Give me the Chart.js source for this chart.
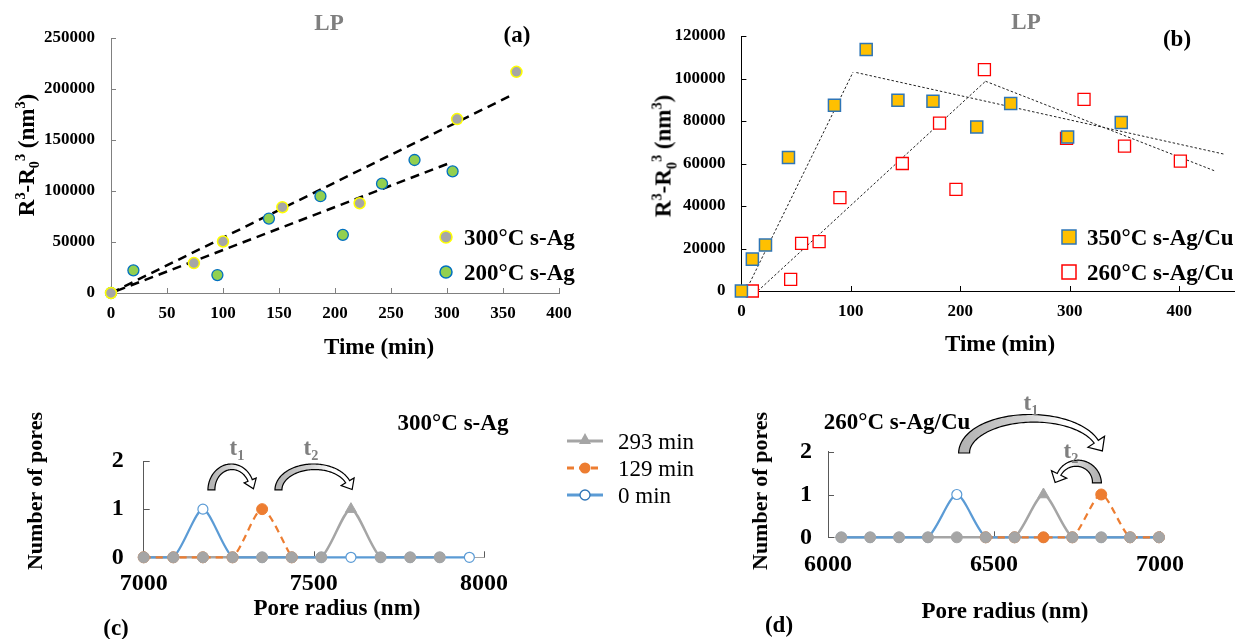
<!DOCTYPE html>
<html><head><meta charset="utf-8">
<script src="https://cdn.jsdelivr.net/npm/chart.js@4"></script>
<style>
body{margin:0;width:1244px;height:639px;position:relative;background:#fff;overflow:hidden;font-family:'Liberation Serif','Times New Roman',serif;}
canvas{position:absolute;}
.t{position:absolute;white-space:nowrap;font-weight:bold;transform:translate(-50%,-50%);line-height:1;color:#000;font-size:23px}
.v{transform:translate(-50%,-50%) rotate(-90deg);}
.l{position:absolute;white-space:nowrap;font-weight:bold;transform:translateY(-50%);line-height:1;font-size:23px}
.r{font-weight:normal}
.g{color:#7f7f7f}
sup,sub{font-size:0.62em;line-height:0}
svg{position:absolute;left:0;top:0;pointer-events:none}
</style></head><body>
<canvas id="ca" width="620" height="370" style="left:0;top:0"></canvas>
<canvas id="cb" width="624" height="370" style="left:620px;top:0"></canvas>
<canvas id="cc" width="560" height="259" style="left:0;top:380px"></canvas>
<canvas id="cd" width="504" height="259" style="left:740px;top:380px"></canvas>

<!-- panel (a) texts -->
<div class="t g" style="left:329px;top:22px">LP</div>
<div class="t" style="left:517px;top:34px">(a)</div>
<div class="t v" style="left:26px;top:155px">R<sup>3</sup>-R<sub>0</sub><sup>3</sup> (nm<sup>3</sup>)</div>
<div class="t" style="left:379px;top:346px">Time (min)</div>
<div class="l" style="left:464px;top:237px">300°C s-Ag</div>
<div class="l" style="left:464px;top:272px">200°C s-Ag</div>
<!-- panel (b) texts -->
<div class="t g" style="left:1026px;top:21px">LP</div>
<div class="t" style="left:1177px;top:38px">(b)</div>
<div class="t v" style="left:663px;top:156px">R<sup>3</sup>-R<sub>0</sub><sup>3</sup> (nm<sup>3</sup>)</div>
<div class="t" style="left:1000px;top:343px">Time (min)</div>
<div class="l" style="left:1087px;top:237px">350°C s-Ag/Cu</div>
<div class="l" style="left:1087px;top:272px">260°C s-Ag/Cu</div>
<!-- panel (c) texts -->
<div class="t" style="left:453px;top:422px">300°C s-Ag</div>
<div class="t g" style="left:237px;top:447px">t<sub>1</sub></div>
<div class="t g" style="left:311px;top:447px">t<sub>2</sub></div>
<div class="t v" style="left:35px;top:491px;font-size:22px">Number of pores</div>
<div class="t" style="left:337px;top:607px">Pore radius (nm)</div>
<div class="t" style="left:116px;top:627px">(c)</div>
<div class="l r" style="left:618px;top:441px">293 min</div>
<div class="l r" style="left:618px;top:468px">129 min</div>
<div class="l r" style="left:618px;top:495px">0 min</div>
<!-- panel (d) texts -->
<div class="t" style="left:897px;top:421px">260°C s-Ag/Cu</div>
<div class="t g" style="left:1031px;top:402px">t<sub>1</sub></div>
<div class="t g" style="left:1071px;top:450px">t<sub>2</sub></div>
<div class="t v" style="left:760px;top:491px;font-size:22px">Number of pores</div>
<div class="t" style="left:1005px;top:610px">Pore radius (nm)</div>
<div class="t" style="left:779px;top:624px">(d)</div>

<svg width="1244" height="639">
  <circle cx="446" cy="237" r="6" fill="#A6A6A6" stroke="#FFFF00" stroke-width="1.5"/>
  <circle cx="446" cy="272" r="6" fill="#92D050" stroke="#0070C0" stroke-width="1.5"/>
  <rect x="1062" y="230" width="14" height="14" fill="#FFC000" stroke="#2E75B6" stroke-width="1.5"/>
  <rect x="1062" y="265" width="14" height="14" fill="#FFFFFF" stroke="#FF0000" stroke-width="1.5"/>
  <line x1="567" y1="441" x2="603" y2="441" stroke="#A5A5A5" stroke-width="3"/>
  <polygon points="585,433 591,444 579,444" fill="#A5A5A5"/>
  <line x1="567" y1="468" x2="603" y2="468" stroke="#ED7D31" stroke-width="3" stroke-dasharray="7,5"/>
  <circle cx="585" cy="468" r="5.5" fill="#ED7D31"/>
  <line x1="567" y1="495" x2="603" y2="495" stroke="#5B9BD5" stroke-width="3"/>
  <circle cx="585" cy="495" r="5" fill="#fff" stroke="#2E75B6" stroke-width="1.3"/>
</svg>

<script>
// ---------- data ----------
// (a) LP, s-Ag
const timeA300 = [0, 74, 100, 153, 222, 309, 362];
const valA300  = [0, 29300, 50500, 84100, 88000, 170500, 216800];
const timeA200 = [0, 20, 95, 141, 187, 207, 242, 271, 305];
const valA200  = [0, 22200, 17600, 73000, 94900, 57000, 107200, 130400, 119300];
const trendA300X = [0, 359];   const trendA300Y = [0, 194600];
const trendA200X = [5, 304];   const trendA200Y = [2100, 128100];
const ticksA_x = [0, 400, 50]; const ticksA_y = [0, 250000, 50000];

// (b) LP, s-Ag/Cu
const timeB350 = [0, 10, 22, 43, 85, 114, 143, 175, 215, 246, 298, 347];
const valB350  = [0, 15000, 21600, 62800, 87400, 113700, 89800, 89300, 77200, 88200, 72500, 79300];
const timeB260 = [10, 45, 55, 71, 90, 147, 181, 196, 222, 297, 313, 350, 401];
const valB260  = [0, 5500, 22400, 23200, 43900, 60000, 79000, 47800, 104200, 71800, 90200, 68200, 61100];
const trendB350aX = [4, 102];   const trendB350aY = [0, 103000];
const trendB350bX = [105, 441]; const trendB350bY = [102800, 64400];
const trendB260aX = [15, 223];  const trendB260aY = [0, 98700];
const trendB260bX = [223, 433]; const trendB260bY = [98700, 56400];
const ticksB_x = [0, 450, 100]; const ticksB_y = [0, 120000, 20000];

// (c) 300°C s-Ag pore distribution
const radiusC = [7000, 7087, 7174, 7261, 7348, 7435, 7522, 7609, 7696, 7783, 7870, 7957];
const c0min   = [0, 0, 1, 0, 0, 0, 0, 0, 0, 0, 0, 0];
const c129min = [0, 0, 0, 0, 1, 0, null, null, null, null, null, null];
const c293min = [0, 0, 0, 0, 0, 0, 0, 1, 0, 0, 0, null];
const ticksC_x = [7000, 8000, 500]; const ticksC_y = [0, 2, 1];

// (d) 260°C s-Ag/Cu pore distribution
const radiusD = [6040, 6127, 6214, 6301, 6388, 6475, 6562, 6649, 6736, 6823, 6910, 6997];
const d0min   = [0, 0, 0, 0, 1, 0, 0, 0, 0, 0, 0, 0];
const d129min = [null, null, null, null, null, 0, 0, 0, 0, 1, 0, 0];
const d293min = [0, 0, 0, 0, 0, 0, 0, 1, 0, 0, 0, 0];
const ticksD_x = [6000, 7000, 500]; const ticksD_y = [0, 2, 1];

// arrow annotations (data coordinates)
const arrowsC = [
  {x0: 7199, x1: 7318, yb: 1.40, yt: 1.88, t0: 7, t1: 4.5, hw: 13, hl: 9, end: 0.42},
  {x0: 7396, x1: 7606, yb: 1.40, yt: 1.88, t0: 7, t1: 4.5, hw: 15, hl: 9, end: 0.36}
];
const arrowsD = [
  {x0: 6410, x1: 6819, yb: 1.97, yt: 2.78, t0: 11, t1: 5, hw: 20, hl: 11, end: 0.33},
  {x0: 6810, x1: 6690, yb: 1.27, yt: 1.73, t0: 9, t1: 4, hw: 17, hl: 9, end: 0.45}
];

// ---------- helpers ----------
Chart.defaults.font.family = "'Liberation Serif','Times New Roman',serif";
Chart.defaults.color = '#000';
const pts = (xs, ys) => xs.map((x, i) => ({x, y: ys[i]}));

function sc(range, o) {
  return {
    type: 'linear', min: range[0], max: range[1],
    grid: {display: false, drawTicks: false},
    border: {display: true, color: o.axis, width: 1},
    ticks: {stepSize: range[2], padding: o.pad, font: {size: o.fs, weight: 'bold'}, color: '#000',
            autoSkip: false, maxRotation: 0, callback: v => String(v)},
    afterFit: s => { if (o.w != null) s.width = o.w; if (o.h != null) s.height = o.h; },
    afterBuildTicks: s => { s.ticks = s.ticks.filter(t => (t.value - range[0]) % range[2] === 0); }
  };
}

const innerTicks = {
  id: 'innerTicks',
  beforeDatasetsDraw(chart, args, opts) {
    const ctx = chart.ctx, a = chart.chartArea;
    ctx.save();
    ctx.strokeStyle = opts.color || '#808080';
    ctx.lineWidth = 1;
    const L = opts.len || 5;
    chart.scales.x.ticks.forEach(t => {
      const p = Math.round(chart.scales.x.getPixelForValue(t.value)) + 0.5;
      ctx.beginPath(); ctx.moveTo(p, a.bottom); ctx.lineTo(p, a.bottom - L); ctx.stroke();
    });
    chart.scales.y.ticks.forEach(t => {
      const p = Math.round(chart.scales.y.getPixelForValue(t.value)) + 0.5;
      ctx.beginPath(); ctx.moveTo(a.left, p); ctx.lineTo(a.left + L, p); ctx.stroke();
    });
    ctx.restore();
  }
};

function drawArrow(ctx, X0, X1, YB, YT, a) {
  const cx = (X0 + X1) / 2, rx = Math.abs(X1 - X0) / 2, ry = YB - YT;
  const ltr = X1 > X0;
  const start = ltr ? Math.PI : 0, sign = ltr ? -1 : 1;
  const span = Math.PI - a.end, N = 80;
  const outer = [], inner = [];
  let P, nEnd, th;
  for (let i = 0; i <= N; i++) {
    const s = span * i / N;
    th = start + sign * s;
    const c = [cx + rx * Math.cos(th), YB - ry * Math.sin(th)];
    let nx = Math.cos(th) / rx, ny = -Math.sin(th) / ry;
    const nl = Math.hypot(nx, ny); nx /= nl; ny /= nl;
    const t = a.t0 + (a.t1 - a.t0) * i / N;
    outer.push([c[0] + nx * t / 2, c[1] + ny * t / 2]);
    inner.push([c[0] - nx * t / 2, c[1] - ny * t / 2]);
    if (i === N) { P = c; nEnd = [nx, ny]; }
  }
  let dx = sign * (-rx * Math.sin(th)), dy = sign * (-ry * Math.cos(th));
  const dl = Math.hypot(dx, dy); dx /= dl; dy /= dl;
  let px = -dy, py = dx;
  if (px * nEnd[0] + py * nEnd[1] < 0) { px = -px; py = -py; }
  const hbO = [P[0] + px * a.hw / 2, P[1] + py * a.hw / 2];
  const hbI = [P[0] - px * a.hw / 2, P[1] - py * a.hw / 2];
  const tip = [P[0] + dx * a.hl, P[1] + dy * a.hl];
  ctx.save();
  ctx.beginPath();
  outer.forEach((p, i) => i ? ctx.lineTo(p[0], p[1]) : ctx.moveTo(p[0], p[1]));
  ctx.lineTo(hbO[0], hbO[1]); ctx.lineTo(tip[0], tip[1]); ctx.lineTo(hbI[0], hbI[1]);
  for (let i = inner.length - 1; i >= 0; i--) ctx.lineTo(inner[i][0], inner[i][1]);
  ctx.closePath();
  const g = ctx.createLinearGradient(X0, 0, X1, 0);
  g.addColorStop(0, '#b4b4b4'); g.addColorStop(0.45, '#d2d2d2'); g.addColorStop(0.75, '#ffffff'); g.addColorStop(1, '#ffffff');
  ctx.fillStyle = g; ctx.fill();
  ctx.strokeStyle = '#000'; ctx.lineWidth = 1.2; ctx.lineJoin = 'miter'; ctx.stroke();
  ctx.restore();
}

const curvedArrows = {
  id: 'curvedArrows',
  afterDraw(chart, args, opts) {
    const xs = chart.scales.x, ys = chart.scales.y;
    (opts.list || []).forEach(a => drawArrow(chart.ctx,
      xs.getPixelForValue(a.x0), xs.getPixelForValue(a.x1),
      ys.getPixelForValue(a.yb), ys.getPixelForValue(a.yt), a));
  }
};

const common = {responsive: false, animation: false, devicePixelRatio: 1,
  events: [], plugins: {legend: {display: false}, tooltip: {enabled: false}}};

// ---------- (a) ----------
new Chart(document.getElementById('ca'), {
  type: 'scatter',
  data: {datasets: [
    {data: pts(timeA300, valA300), pointRadius: 5.5, backgroundColor: '#A6A6A6', borderColor: '#FFFF00', borderWidth: 1.5, clip: false},
    {data: pts(timeA200, valA200), pointRadius: 5.5, backgroundColor: '#92D050', borderColor: '#0070C0', borderWidth: 1.3, clip: false},
    {data: pts(trendA300X, trendA300Y), showLine: true, pointRadius: 0, borderColor: '#000', borderWidth: 2.5, borderDash: [9, 6], clip: false},
    {data: pts(trendA200X, trendA200Y), showLine: true, pointRadius: 0, borderColor: '#000', borderWidth: 2.5, borderDash: [9, 6], clip: false}
  ]},
  options: Object.assign({}, common, {
    layout: {padding: {left: 0, top: 38, right: 61, bottom: 0}},
    scales: {
      x: sc(ticksA_x, {axis: '#808080', pad: 10, fs: 17, h: 77}),
      y: sc(ticksA_y, {axis: '#808080', pad: 16, fs: 17, w: 111})
    },
    plugins: Object.assign({}, common.plugins, {innerTicks: {color: '#808080'}})
  }),
  plugins: [innerTicks]
});

// ---------- (b) ----------
new Chart(document.getElementById('cb'), {
  type: 'scatter',
  data: {datasets: [
    {data: pts(timeB350, valB350), pointStyle: 'rect', pointRadius: 8.5, backgroundColor: '#FFC000', borderColor: '#2E75B6', borderWidth: 1.5, clip: false},
    {data: pts(timeB260, valB260), pointStyle: 'rect', pointRadius: 8.5, backgroundColor: '#FFFFFF', borderColor: '#FF0000', borderWidth: 1.3, clip: false},
    {data: pts(trendB350aX, trendB350aY), showLine: true, pointRadius: 0, borderColor: '#222', borderWidth: 1, borderDash: [2.5, 2]},
    {data: pts(trendB350bX, trendB350bY), showLine: true, pointRadius: 0, borderColor: '#222', borderWidth: 1, borderDash: [2.5, 2]},
    {data: pts(trendB260aX, trendB260aY), showLine: true, pointRadius: 0, borderColor: '#222', borderWidth: 1, borderDash: [2.5, 2]},
    {data: pts(trendB260bX, trendB260bY), showLine: true, pointRadius: 0, borderColor: '#222', borderWidth: 1, borderDash: [2.5, 2]}
  ]},
  options: Object.assign({}, common, {
    layout: {padding: {left: 0, top: 36, right: 0, bottom: 0}},
    scales: {
      x: sc(ticksB_x, {axis: '#000', pad: 10, fs: 17, h: 79}),
      y: sc(ticksB_y, {axis: '#000', pad: 16, fs: 17, w: 121.4})
    },
    plugins: Object.assign({}, common.plugins, {innerTicks: {color: '#000'}})
  }),
  plugins: [innerTicks]
});

// ---------- (c), (d) pore distributions ----------
const BLUE = '#5B9BD5', ORANGE = '#ED7D31', GRAY = '#A5A5A5';
function poreChart(id, radius, s0, s129, s293, xr, yr, geo, arrows) {
  const peakIdx = s293.indexOf(1);
  const TEN = 0.25;
  return new Chart(document.getElementById(id), {
    type: 'scatter',
    data: {datasets: [
      {order: 6, data: pts(radius, s293), showLine: true, pointRadius: 0, borderColor: GRAY, borderWidth: 2.5, tension: TEN, clip: false},
      {order: 5, data: pts(radius, s0), showLine: true, pointRadius: 0, borderColor: BLUE, borderWidth: 2.2, tension: TEN, clip: false},
      {order: 4, data: pts(radius, s129), showLine: true, pointRadius: 0, borderColor: ORANGE, borderWidth: 2.2, borderDash: [7, 5], tension: TEN, clip: false},
      {order: 3, data: pts(radius, s0), pointRadius: 5, backgroundColor: '#fff', borderColor: BLUE, borderWidth: 1.2, clip: false},
      {order: 2, data: pts(radius, s129), pointRadius: 5.5, backgroundColor: ORANGE, borderColor: ORANGE, borderWidth: 1, clip: false},
      {order: 1, data: pts(radius, s293),
       pointStyle: s293.map((v, i) => i === peakIdx ? 'triangle' : 'circle'),
       pointRadius: s293.map((v, i) => i === peakIdx ? 6.5 : 5.5),
       backgroundColor: GRAY, borderColor: GRAY, borderWidth: 1, clip: false}
    ]},
    options: Object.assign({}, common, {
      layout: {padding: {left: 0, top: geo.top, right: geo.right, bottom: 0}},
      scales: {
        x: sc(xr, {axis: '#A6A6A6', pad: geo.xpad, fs: 24, h: geo.h}),
        y: sc(yr, {axis: '#595959', pad: geo.ypad, fs: 24, w: geo.w})
      },
      plugins: Object.assign({}, common.plugins, {innerTicks: {color: '#595959', len: 6}, curvedArrows: {list: arrows}})
    }),
    plugins: [innerTicks, curvedArrows]
  });
}
poreChart('cc', radiusC, c0min, c129min, c293min, ticksC_x, ticksC_y,
  {top: 81, right: 76, h: 81.7, w: 143.7, xpad: 12, ypad: 20}, arrowsC);
poreChart('cd', radiusD, d0min, d129min, d293min, ticksD_x, ticksD_y,
  {top: 71.7, right: 84, h: 101.7, w: 88, xpad: 13, ypad: 16}, arrowsD);
</script>
</body></html>
